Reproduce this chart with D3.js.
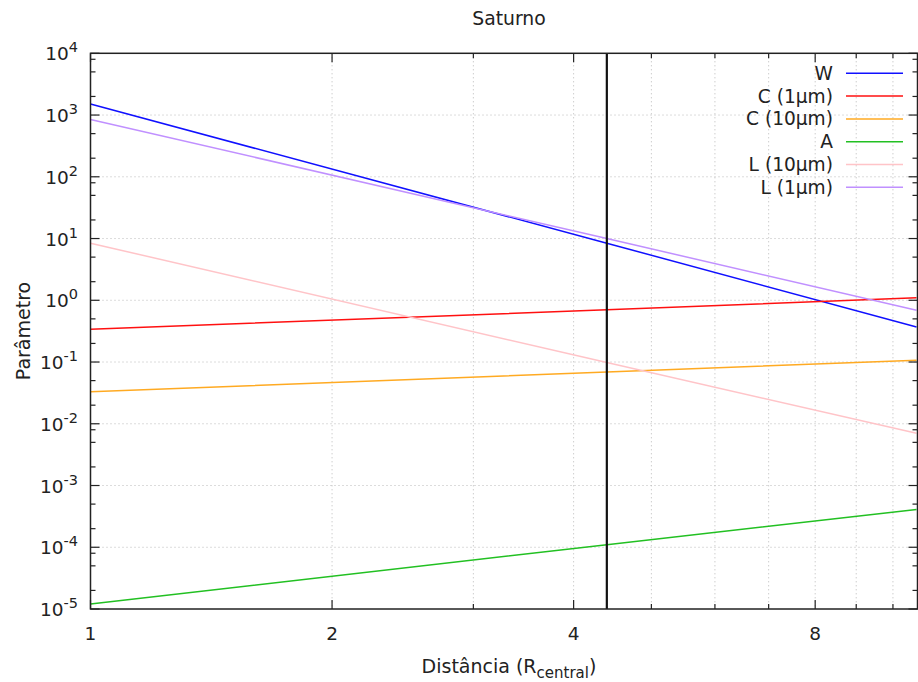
<!DOCTYPE html>
<html>
<head>
<meta charset="utf-8">
<script src="https://cdn.jsdelivr.net/npm/d3@7"></script>
<style>
  body { margin: 0; background: #fff; }
  text { font-family: "DejaVu Sans", sans-serif; fill: #222; }
</style>
</head>
<body>
<div id="container-chart"></div>
<script>
const distances = [1, 4.4, 10.7];

const seriesNames = ["W", "C (1µm)", "C (10µm)", "A", "L (10µm)", "L (1µm)"];
const wValues   = [1510, 8.4, 0.37];
const c1Values  = [0.34, 0.70, 1.10];
const c10Values = [0.033, 0.069, 0.107];
const aValues   = [1.2e-5, 1.1e-4, 4.1e-4];
const l10Values = [8.4, 0.098, 0.0070];
const l1Values  = [850, 10.0, 0.69];
const seriesColors = ["#1010ff", "#ff1010", "#ffaa22", "#22c022", "#ffc4c8", "#c090ff"];

const markerDistance = 4.4;

const xMajorTicks = [1, 2, 4, 8];
const xMinorTicks = [3, 5, 6, 7, 9, 10];
const yExponents = [-5, -4, -3, -2, -1, 0, 1, 2, 3, 4];
const yMinorTicks = [8e3, 5e3, 2e3, 5e2, 2e2, 8e1, 5e1, 2e1, 5e0, 2e0, 5e-1, 2e-1,
  5e-2, 2e-2, 8e-3, 5e-3, 2e-3, 5e-4, 2e-4, 8e-5, 5e-5, 2e-5];

const allSeries = [wValues, c1Values, c10Values, aValues, l10Values, l1Values];

const W = 918, H = 682;
const m = {left: 90.5, right: 917.5, top: 53.3, bottom: 609};

const svg = d3.select("#container-chart").append("svg")
  .attr("width", W).attr("height", H);

const x = d3.scaleLog().domain([1, 10.73]).range([m.left, m.right]);
const y = d3.scaleLog().domain([1e-5, 1e4]).range([m.bottom, m.top]);

// grid
const grid = svg.append("g").attr("stroke", "#b8b8b8").attr("stroke-width", 1)
  .attr("stroke-dasharray", "1,3");
xMajorTicks.slice(1).concat(xMinorTicks).forEach(v => {
  grid.append("line").attr("x1", x(v)).attr("x2", x(v)).attr("y1", m.top).attr("y2", m.bottom);
});
yExponents.slice(1, -1).forEach(e => {
  grid.append("line").attr("x1", m.left).attr("x2", m.right)
    .attr("y1", y(Math.pow(10, e))).attr("y2", y(Math.pow(10, e)));
});

// series lines
const line = d3.line().x((d, i) => x(distances[i])).y(d => y(d));
const plot = svg.append("g");
allSeries.forEach((vals, i) => {
  plot.append("path").datum(vals)
    .attr("fill", "none")
    .attr("stroke", seriesColors[i])
    .attr("stroke-width", 1.5)
    .attr("d", line);
});

// vertical marker
svg.append("line")
  .attr("x1", x(markerDistance)).attr("x2", x(markerDistance))
  .attr("y1", m.top).attr("y2", m.bottom)
  .attr("stroke", "#111").attr("stroke-width", 2.2);

// frame
svg.append("rect").attr("x", m.left).attr("y", m.top)
  .attr("width", m.right - m.left).attr("height", m.bottom - m.top)
  .attr("fill", "none").attr("stroke", "#222").attr("stroke-width", 1.5);

// ticks
const ticks = svg.append("g").attr("stroke", "#222").attr("stroke-width", 1.2);
xMajorTicks.forEach(v => {
  ticks.append("line").attr("x1", x(v)).attr("x2", x(v)).attr("y1", m.bottom).attr("y2", m.bottom - 9);
  ticks.append("line").attr("x1", x(v)).attr("x2", x(v)).attr("y1", m.top).attr("y2", m.top + 9);
});
xMinorTicks.forEach(v => {
  ticks.append("line").attr("x1", x(v)).attr("x2", x(v)).attr("y1", m.bottom).attr("y2", m.bottom - 5);
  ticks.append("line").attr("x1", x(v)).attr("x2", x(v)).attr("y1", m.top).attr("y2", m.top + 5);
});
yExponents.forEach(e => {
  const yy = y(Math.pow(10, e));
  ticks.append("line").attr("x1", m.left).attr("x2", m.left + 9).attr("y1", yy).attr("y2", yy);
  ticks.append("line").attr("x1", m.right).attr("x2", m.right - 9).attr("y1", yy).attr("y2", yy);
});
yMinorTicks.forEach(v => {
  const yy = y(v);
  ticks.append("line").attr("x1", m.left).attr("x2", m.left + 5).attr("y1", yy).attr("y2", yy);
  ticks.append("line").attr("x1", m.right).attr("x2", m.right - 5).attr("y1", yy).attr("y2", yy);
});

// tick labels
xMajorTicks.forEach(v => {
  svg.append("text").attr("x", x(v)).attr("y", 640)
    .attr("text-anchor", "middle").attr("font-size", 18.5).text(v);
});
yExponents.forEach(e => {
  const t = svg.append("text").attr("x", 78).attr("y", y(Math.pow(10, e)) + 7)
    .attr("text-anchor", "end").attr("font-size", 18.5);
  t.append("tspan").text("10");
  t.append("tspan").attr("dy", -8).attr("font-size", 14.5).text(e);
});

// titles
svg.append("text").attr("x", 509).attr("y", 25).attr("text-anchor", "middle")
  .attr("font-size", 18.8).text("Saturno");

const xl = svg.append("text").attr("x", 509).attr("y", 673)
  .attr("text-anchor", "middle").attr("font-size", 19);
xl.append("tspan").text("Distância (R");
xl.append("tspan").attr("dy", 5).attr("font-size", 15).text("central");
xl.append("tspan").attr("dy", -5).text(")");

svg.append("text").attr("transform", "translate(30,331) rotate(-90)")
  .attr("text-anchor", "middle").attr("font-size", 19).text("Parâmetro");

// legend
const legend = svg.append("g");
seriesNames.forEach((name, i) => {
  const ly = 73.3 + i * 22.8;
  legend.append("text").attr("x", 833).attr("y", ly + 6.5)
    .attr("text-anchor", "end").attr("font-size", 18.6).text(name);
  legend.append("line").attr("x1", 846).attr("x2", 903).attr("y1", ly).attr("y2", ly)
    .attr("stroke", seriesColors[i]).attr("stroke-width", 1.5);
});
</script>
</body>
</html>
